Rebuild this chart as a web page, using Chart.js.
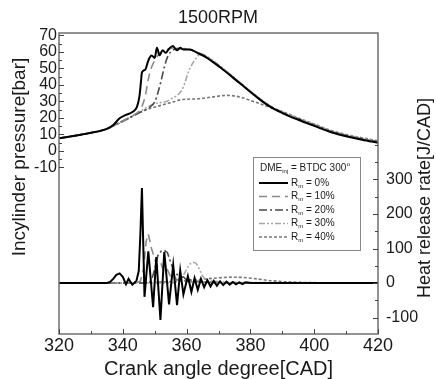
<!DOCTYPE html>
<html>
<head>
<meta charset="utf-8">
<script src="https://cdn.jsdelivr.net/npm/chart.js@4"></script>
<style>
  body { margin: 0; background: #fff; }
  canvas { display: block; }
</style>
</head>
<body>
<canvas id="chart" width="436" height="379"></canvas>
<script>
const seriesNames = ['0%', '10%', '20%', '30%', '40%'];

// tick labels that are shown
const xTickLabels = [320, 340, 360, 380, 400, 420];
const pressureTickLabels = [-10, 0, 10, 20, 30, 40, 50, 60, 70];
const hrrTickLabels = [-100, 0, 100, 200, 300];

// incylinder pressure [bar], pairs of [CAD, value]
const pressure0 = [[320,7.7],[325,9.3],[330,11.0],[335,13.4],[337,15.7],[339,19.8],[341,21.9],[343,23.6],[344.4,26.6],[345.2,33],[345.7,42],[346,47.6],[347,49.2],[348,54.8],[349,57.9],[350,56.4],[350.7,62.6],[351.5,58],[352.5,61],[353.5,59.5],[354.5,62],[355.7,63.6],[357,61],[358,62.5],[359,61.5],[361,61.5],[363.3,59.5],[366,56.9],[370.5,50.7],[376.7,41.0],[383,31.1],[386,27],[390,23],[395,18.9],[400,15.2],[405.6,11.2],[410,8.9],[415,6.8],[420,5.0]];
const pressure10 = [[320,7.7],[325,9.3],[330,11.0],[335,13.4],[337,15.2],[340,18.3],[343,21.4],[345,23.9],[346,27],[347,33],[348,43.5],[349,50.7],[350,54.8],[351,57.9],[352,60],[354,61.5],[356,62.6],[358,62],[361,61.5],[363.3,59.8],[366,57.2],[370.5,51],[376.7,41.3],[383,31.4],[386,27.3],[390,23.4],[395,19.3],[400,15.6],[405.6,11.6],[410,9.3],[415,7.2],[420,5.4]];
const pressure20 = [[320,7.7],[325,9.3],[330,11.0],[335,13.4],[337,15.2],[340,18.2],[345,23],[348,26],[350,29.6],[351,35.3],[352,42.5],[353,50.7],[354,56.9],[355,60],[356,61.5],[358,62.2],[361,61.5],[363.3,59.8],[366,57.2],[370.5,51],[376.7,41.3],[383,31.4],[386,27.3],[390,23.4],[395,19.4],[400,15.7],[405.6,11.7],[410,9.4],[415,7.3],[420,5.5]];
const pressure30 = [[320,7.7],[325,9.3],[330,11.0],[335,13.4],[337,15.2],[340,18],[345,23.4],[348.5,27.5],[351,29.1],[353.8,30.1],[355.7,32.2],[357,33.7],[358.5,36.8],[359.5,41.5],[360.4,47.1],[361.5,51.8],[363.3,56.9],[364.5,59],[366,57.8],[370.5,51.5],[376.7,41.6],[383,31.7],[386,27.6],[390,23.7],[395,19.7],[400,16],[405.6,12],[410,9.7],[415,7.6],[420,5.8]];
const pressure40 = [[320,7.7],[325,9.3],[330,11.0],[335,13.4],[337,15.2],[340,17.8],[345.4,23.4],[348,25.5],[351.7,27.5],[355.7,29.7],[358,31],[364,31.7],[368,32.7],[372.6,33.7],[376.7,32.7],[380.8,30.1],[383,28.6],[385,27.2],[390,24],[395,20],[400,16.3],[405.6,12.3],[410,10],[415,8],[420,6.2]];

// heat release rate [J/CAD], pairs of [CAD, value]
const hrr0 = [[320,0],[335,0],[336,3],[337,12],[338,24],[339,28],[340,18],[341,-4],[341.8,12],[343,-5],[344.3,7],[345,35],[345.5,140],[346,275],[346.8,-40],[348,92],[349.5,-70],[350.5,75],[351.8,-107],[353,90],[354.5,-62],[355.8,52],[357,-64],[358,36],[359,-33],[360.4,20],[361.5,-26],[362.5,14],[363.5,-20],[364.5,12],[365.5,-12],[366.5,8],[367.5,-10],[368.5,6],[369.5,-8],[370.5,5],[371.5,-6],[372.5,4],[373.5,-5],[374.5,3],[375.5,-4],[376.5,2],[377.5,-3],[378.5,2],[380,0],[420,0]];
const hrr10 = [[320,0],[344,0],[345.5,5],[346.5,40],[347.3,120],[348,142],[349,100],[350,70],[351,45],[352,55],[353,30],[354,38],[355,18],[356,22],[357,8],[358,12],[360,4],[363,3],[370,1],[380,0],[420,0]];
const hrr20 = [[320,0],[348,0],[349,8],[350,40],[351,80],[352,92],[353,95],[354,88],[355,60],[356,35],[357,25],[358,15],[359,18],[360,8],[361,10],[362,4],[364,5],[366,2],[370,1],[380,0],[420,0]];
const hrr30 = [[320,0],[355,0],[357,3],[358,10],[359,22],[360,40],[361,55],[362,60],[363,57],[364,40],[365,20],[366,8],[368,5],[372,3],[378,2],[385,1],[395,0],[420,0]];
const hrr40 = [[320,0],[345,0],[350,2],[355,4],[360,7],[365,11],[370,15],[374,17],[378,16],[382,12],[386,7],[390,4],[395,2],[400,1],[410,0],[420,0]];

const pressureSets = [pressure0, pressure10, pressure20, pressure30, pressure40];
const hrrSets = [hrr0, hrr10, hrr20, hrr30, hrr40];

const lineStyles = [
  { color: '#000000', width: 2, dash: [] },
  { color: '#8a8a8a', width: 1.6, dash: [8, 5] },
  { color: '#4a4a4a', width: 1.6, dash: [8, 3, 2, 3] },
  { color: '#a8a8a8', width: 1.6, dash: [6, 2, 2, 2, 2, 2] },
  { color: '#777777', width: 1.6, dash: [3, 2] }
];

const textColor = '#1a1a1a';
Chart.defaults.font.family = '"Liberation Sans", Arial, sans-serif';
Chart.defaults.color = textColor;

const datasets = [];
for (let i = 0; i < seriesNames.length; i++) {
  const st = lineStyles[i];
  datasets.push({
    label: 'P ' + seriesNames[i],
    data: pressureSets[i].map(d => ({ x: d[0], y: d[1] })),
    yAxisID: 'y',
    borderColor: st.color,
    borderWidth: st.width,
    borderDash: st.dash,
    pointRadius: 0,
    cubicInterpolationMode: 'monotone'
  });
  datasets.push({
    label: 'HRR ' + seriesNames[i],
    data: hrrSets[i].map(d => ({ x: d[0], y: d[1] })),
    yAxisID: 'y2',
    borderColor: st.color,
    borderWidth: st.width,
    borderDash: st.dash,
    pointRadius: 0,
    tension: 0
  });
}

// frame box and inward tick marks
const frame = {
  id: 'frame',
  afterDraw(chart) {
    const { ctx, chartArea: a, scales } = chart;
    ctx.save();
    ctx.strokeStyle = '#6f6f6f';
    ctx.lineWidth = 1.5;
    ctx.strokeRect(a.left, a.top, a.right - a.left, a.bottom - a.top);

    ctx.strokeStyle = '#444';
    ctx.lineWidth = 1;
    ctx.beginPath();
    scales.x.ticks.forEach(t => {
      const px = Math.round(scales.x.getPixelForValue(t.value)) + 0.5;
      const len = xTickLabels.includes(t.value) ? 5 : 3;
      ctx.moveTo(px, a.bottom);
      ctx.lineTo(px, a.bottom - len);
    });
    scales.y.ticks.forEach(t => {
      if (t.value < -10 || t.value > 70) return;
      const py = Math.round(scales.y.getPixelForValue(t.value)) + 0.5;
      const len = pressureTickLabels.includes(t.value) ? 5 : 3;
      ctx.moveTo(a.left, py);
      ctx.lineTo(a.left + len, py);
    });
    scales.y2.ticks.forEach(t => {
      if (t.value < -100 || t.value > 400) return;
      const py = Math.round(scales.y2.getPixelForValue(t.value)) + 0.5;
      const len = hrrTickLabels.includes(t.value) ? 5 : 3;
      ctx.moveTo(a.right, py);
      ctx.lineTo(a.right - len, py);
    });
    ctx.stroke();
    ctx.restore();
  }
};

// axis titles
const axisTitles = {
  id: 'axisTitles',
  afterDraw(chart) {
    const { ctx, chartArea: a } = chart;
    ctx.save();
    ctx.fillStyle = textColor;
    ctx.textAlign = 'center';
    ctx.textBaseline = 'middle';
    ctx.font = '20px "Liberation Sans", Arial, sans-serif';
    ctx.fillText('Crank angle degree[CAD]', (a.left + a.right) / 2, 369);

    ctx.font = '19px "Liberation Sans", Arial, sans-serif';
    ctx.translate(20, 157);
    ctx.rotate(-Math.PI / 2);
    ctx.fillText('Incylinder pressure[bar]', 0, 0);
    ctx.restore();

    ctx.save();
    ctx.fillStyle = textColor;
    ctx.textAlign = 'center';
    ctx.textBaseline = 'middle';
    ctx.font = '18px "Liberation Sans", Arial, sans-serif';
    ctx.translate(425, 198);
    ctx.rotate(-Math.PI / 2);
    ctx.fillText('Heat release rate[J/CAD]', 0, 0);
    ctx.restore();
  }
};

// legend box inside the plot
const boxLegend = {
  id: 'boxLegend',
  afterDraw(chart) {
    const ctx = chart.ctx;
    const bx = 253, by = 157, bw = 107, bh = 93;
    const big = '10px "Liberation Sans", Arial, sans-serif';
    const small = '6px "Liberation Sans", Arial, sans-serif';
    ctx.save();
    ctx.fillStyle = '#fff';
    ctx.fillRect(bx, by, bw, bh);
    ctx.strokeStyle = '#888';
    ctx.lineWidth = 1;
    ctx.strokeRect(bx + 0.5, by + 0.5, bw, bh);

    ctx.fillStyle = textColor;
    ctx.textBaseline = 'middle';
    ctx.textAlign = 'left';
    let x = 260, y = 168;
    ctx.font = big;
    ctx.fillText('DME', x, y);
    x += ctx.measureText('DME').width;
    ctx.font = small;
    ctx.fillText('inj', x, y + 3);
    x += ctx.measureText('inj').width;
    ctx.font = big;
    ctx.fillText(' = BTDC 300', x, y);
    x += ctx.measureText(' = BTDC 300').width;
    ctx.font = small;
    ctx.fillText('o', x + 0.5, y - 4);

    for (let i = 0; i < seriesNames.length; i++) {
      const st = lineStyles[i];
      const ry = 183 + i * 13.5;
      ctx.strokeStyle = st.color;
      ctx.lineWidth = st.width;
      ctx.setLineDash(st.dash);
      ctx.beginPath();
      ctx.moveTo(259, ry);
      ctx.lineTo(288, ry);
      ctx.stroke();
      ctx.setLineDash([]);
      let tx = 291;
      ctx.font = big;
      ctx.fillText('R', tx, ry);
      tx += ctx.measureText('R').width;
      ctx.font = small;
      ctx.fillText('m', tx, ry + 3);
      tx += ctx.measureText('m').width;
      ctx.font = big;
      ctx.fillText(' = ' + seriesNames[i], tx, ry);
    }
    ctx.restore();
  }
};

new Chart(document.getElementById('chart'), {
  type: 'line',
  data: { datasets: datasets },
  options: {
    responsive: false,
    animation: false,
    layout: { padding: 0 },
    plugins: {
      legend: { display: false },
      tooltip: { enabled: false },
      title: {
        display: true,
        text: '1500RPM',
        color: textColor,
        font: { size: 18, weight: 'normal' },
        padding: { top: 7, bottom: 4.4 }
      }
    },
    scales: {
      x: {
        type: 'linear',
        min: 320,
        max: 420,
        grid: { display: false, drawTicks: false },
        border: { display: false },
        ticks: {
          stepSize: 10,
          autoSkip: false,
          maxRotation: 0,
          padding: 1,
          font: { size: 18 },
          callback: v => xTickLabels.includes(v) ? v : ''
        },
        afterFit: s => { s.height = 45; }
      },
      y: {
        position: 'left',
        min: -110.9,
        max: 71.5,
        grid: { display: false, drawTicks: false },
        border: { display: false },
        ticks: {
          stepSize: 5,
          includeBounds: false,
          autoSkip: false,
          padding: 2,
          font: { size: 16 },
          callback: v => pressureTickLabels.includes(v) ? v : ''
        },
        afterFit: s => { s.width = 59; }
      },
      y2: {
        position: 'right',
        min: -147.8,
        max: 724.6,
        grid: { display: false, drawTicks: false },
        border: { display: false },
        ticks: {
          stepSize: 50,
          includeBounds: false,
          autoSkip: false,
          padding: 8,
          font: { size: 16 },
          callback: v => hrrTickLabels.includes(v) ? v : ''
        },
        afterFit: s => { s.width = 58; }
      }
    }
  },
  plugins: [frame, axisTitles, boxLegend]
});
</script>
</body>
</html>
